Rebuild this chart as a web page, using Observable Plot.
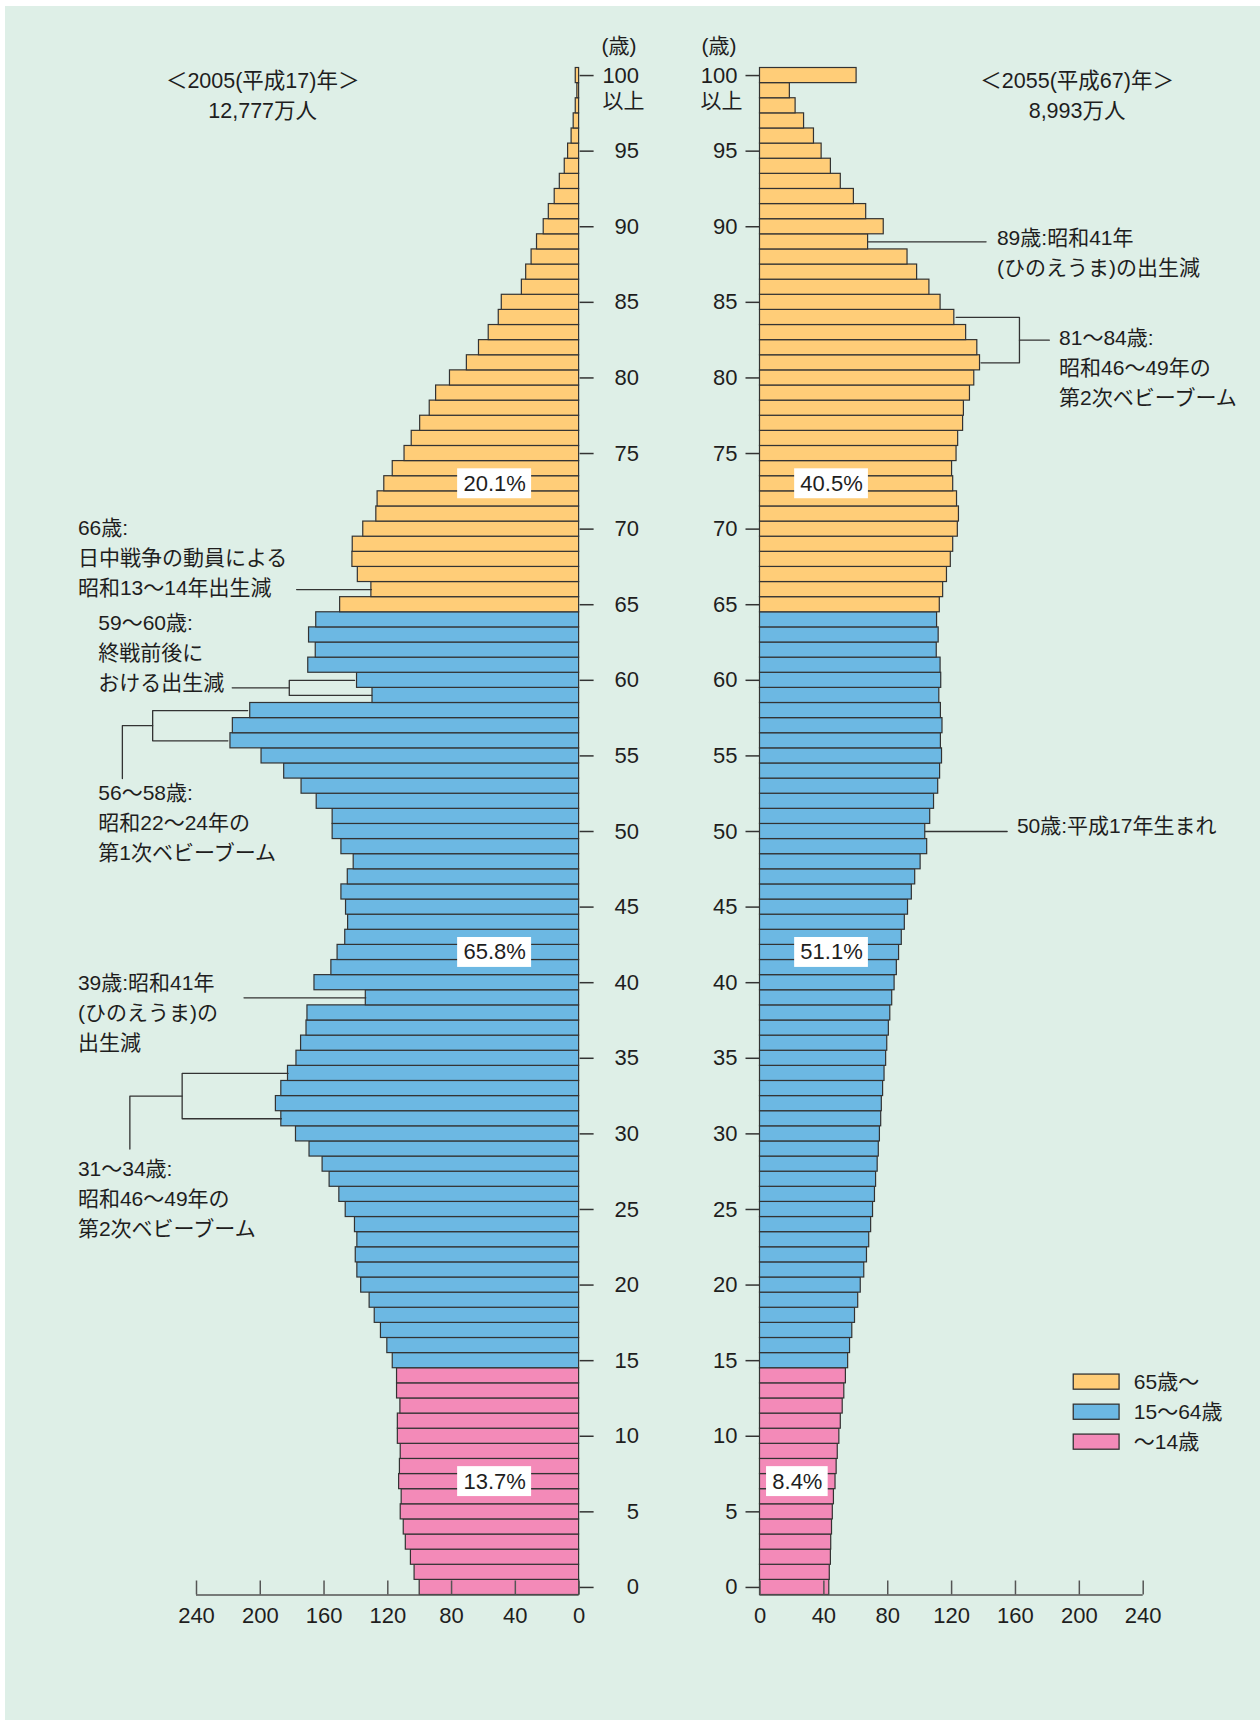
<!DOCTYPE html>
<html>
<head>
<meta charset="utf-8">
<script src="https://cdn.jsdelivr.net/npm/d3@7"></script>
<script src="https://cdn.jsdelivr.net/npm/@observablehq/plot@0.6"></script>
<style>
html, body { margin: 0; padding: 0; background: #ffffff; }
#page { position: relative; width: 1260px; height: 1720px; overflow: hidden; }
#bg { position: absolute; left: 5px; top: 6px; right: 0; bottom: 0; background: #deefe7; }
#left, #right { position: absolute; top: 0; }
#left { left: 0; }
#right { left: 680px; }
</style>
</head>
<body>
<div id="page"><div id="bg"></div><div id="left"></div><div id="right"></div></div>
<script>
// ---- data (万人, by single year of age 0 … 100以上) ----
const ages = d3.range(0, 101);
const pop2005 = [
  100.0, 103.2, 105.5, 108.7, 110.0, 111.9, 111.3, 112.9, 112.4, 111.9,
  113.7, 113.7, 112.1, 114.2, 114.2, 116.9, 120.3, 124.3, 128.2, 131.4,
  136.7, 139.1, 140.1, 139.1, 140.6, 146.4, 150.4, 156.5, 160.9, 169.1,
  177.6, 186.8, 190.2, 186.8, 182.6, 177.3, 174.4, 171.0, 170.4, 133.8,
  166.0, 155.4, 151.5, 146.7, 144.9, 146.2, 149.1, 145.1, 141.4, 149.1,
  154.6, 154.6, 164.6, 174.1, 185.0, 199.2, 218.7, 217.2, 206.3, 129.6,
  139.3, 169.9, 165.2, 169.4, 164.9, 149.9, 130.3, 138.8, 142.2, 142.0,
  135.4, 127.2, 126.4, 122.2, 116.9, 109.5, 105.0, 99.7, 93.7, 89.7,
  81.0, 70.4, 62.8, 56.7, 50.4, 48.5, 35.9, 33.2, 29.8, 26.4,
  22.2, 19.0, 15.3, 12.1, 9.0, 6.9, 4.7, 3.4, 2.1, 1.1,
  2.1
];
const pop2055 = [
  43.4, 43.7, 44.4, 44.6, 45.1, 45.6, 46.3, 47.3, 48.0, 48.7,
  49.7, 50.6, 51.8, 52.8, 53.8, 55.2, 56.4, 57.8, 59.5, 61.5,
  63.1, 65.3, 67.0, 68.4, 69.6, 70.8, 72.0, 72.7, 73.7, 74.4,
  75.1, 75.9, 76.3, 77.1, 78.0, 79.0, 79.7, 80.7, 81.6, 82.8,
  84.3, 85.7, 87.1, 88.8, 90.7, 92.7, 95.1, 97.2, 100.6, 104.7,
  103.5, 106.6, 109.0, 111.6, 112.8, 114.0, 113.3, 114.3, 113.3, 112.3,
  113.5, 113.1, 110.7, 111.9, 110.9, 112.6, 114.7, 117.1, 119.5, 121.0,
  123.9, 124.6, 123.4, 121.0, 120.3, 123.1, 124.1, 127.2, 127.7, 131.5,
  134.2, 137.8, 136.1, 129.1, 121.7, 113.1, 106.1, 98.4, 92.4, 67.7,
  77.5, 66.5, 58.8, 50.6, 44.4, 38.6, 33.8, 27.6, 22.3, 18.7,
  60.5
];
const groups = ["65歳～", "15～64歳", "～14歳"];
const groupColors = ["#ffcd78", "#6cb8e3", "#f38ab8"];
const xTicks = [0, 40, 80, 120, 160, 200, 240];
const ageTicks = d3.range(0, 101, 5);
const share2005 = ["20.1%", "65.8%", "13.7%"];
const share2055 = ["40.5%", "51.1%", "8.4%"];
const shareAges = [73, 42, 7];
const title2005 = ["＜2005(平成17)年＞", "12,777万人"];
const title2055 = ["＜2055(平成67)年＞", "8,993万人"];

// ---- helpers ----
const groupOf = a => a >= 65 ? groups[0] : a >= 15 ? groups[1] : groups[2];
const rows2005 = ages.map((a, i) => ({age: a, value: pop2005[i], group: groupOf(a)}));
const rows2055 = ages.map((a, i) => ({age: a, value: pop2055[i], group: groupOf(a)}));
const ink = "#1e1e1e";
const font = '"Liberation Sans", Arial, "Noto Sans CJK JP", sans-serif';
const lh = 30 / 21;

function pathPts(list) {
  const out = [];
  list.forEach((pts, id) => pts.forEach(([x, y]) => out.push({id, x, y})));
  return out;
}

function commonMarks(rows) {
  return [
    Plot.rectX(rows, {x1: 0, x2: "value", y1: d => d.age - 0.5, y2: d => d.age + 0.5,
      fill: "group", stroke: "#333", strokeWidth: 1.2}),
    Plot.ruleY([-0.5], {stroke: "#555", strokeWidth: 1.5}),
    Plot.ruleX(xTicks, {x: d => d, y1: -0.5, y2: -0.5, insetTop: -14, stroke: "#555", strokeWidth: 1.5}),
    Plot.axisX({anchor: "bottom", ticks: xTicks, tickSize: 0, tickPadding: 12, label: null,
      fontSize: 22, fill: ink})
  ];
}

// ---- left: 2005 ----
const notes2005 = [
  {x: 314.4, y: 68.06, text: "66歳:\n日中戦争の動員による\n昭和13～14年出生減"},
  {x: 301.6, y: 61.75, text: "59～60歳:\n終戦前後に\nおける出生減"},
  {x: 301.6, y: 50.51, text: "56～58歳:\n昭和22～24年の\n第1次ベビーブーム"},
  {x: 314.4, y: 37.94, text: "39歳:昭和41年\n(ひのえうま)の\n出生減"},
  {x: 314.4, y: 25.64, text: "31～34歳:\n昭和46～49年の\n第2次ベビーブーム"}
];
const leaders2005 = pathPts([
  [[177.2, 66], [pop2005[66], 66]],
  [[217.6, 59.5], [181.8, 59.5]],
  [[pop2005[60] + 1.5, 60], [181.8, 60], [181.8, 59], [pop2005[59] + 0.4, 59]],
  [[286.5, 53.5], [286.5, 57], [267.5, 57]],
  [[pop2005[58] + 1.6, 58], [267.5, 58], [267.5, 56], [pop2005[56] + 1.6, 56]],
  [[210.2, 39], [pop2005[39], 39]],
  [[281.8, 29], [281.8, 32.5], [249, 32.5]],
  [[pop2005[34], 34], [249, 34], [249, 31], [pop2005[31], 31]]
]);
const shares2005 = shareAges.map((a, i) => ({a, label: share2005[i]}));

const leftPlot = Plot.plot({
  width: 680, height: 1720,
  marginLeft: 196, marginRight: 101.4, marginTop: 67.5, marginBottom: 125.5,
  style: {background: "transparent", fontFamily: font, fontSize: "22px", color: ink, overflow: "visible"},
  x: {domain: [0, 240], reverse: true},
  y: {domain: [-0.5, 100.5]},
  color: {domain: groups, range: groupColors},
  marks: [
    ...commonMarks(rows2005),
    Plot.axisY({anchor: "right", ticks: ageTicks, tickSize: 14, tickPadding: 46, textAnchor: "end",
      label: null, fontSize: 22, fill: ink, stroke: "#333", strokeWidth: 1.5}),
    Plot.text(["以上"], {x: 0, y: 100, dx: 23.4, dy: 26, textAnchor: "start", fontSize: 21, fill: ink}),
    Plot.text(["(歳)"], {x: 0, y: 100, dx: 22.4, dy: -29, textAnchor: "start", fontSize: 21, fill: ink}),
    Plot.rect(shares2005, {x1: 29.8, x2: 76.2, y1: d => d.a - 0.99, y2: d => d.a + 0.99, fill: "white"}),
    Plot.text(shares2005, {x: 53, y: "a", text: "label", fontSize: 22, fill: ink}),
    Plot.line(leaders2005, {x: "x", y: "y", z: "id", stroke: "#333", strokeWidth: 1.3, curve: "linear"}),
    Plot.text(notes2005, {x: "x", y: "y", text: "text", textAnchor: "start", lineAnchor: "middle",
      lineHeight: lh, fontSize: 21, dy: -3.5, fill: ink}),
    Plot.text([title2005.join("\n")], {x: 198.5, y: 98.67, text: d => d, lineHeight: lh,
      fontSize: 21.5, dy: -2.5, fill: ink})
  ]
});
document.getElementById("left").appendChild(leftPlot);

// ---- right: 2055 ----
const notes2055 = [
  {x: 148.4, y: 88.2, text: "89歳:昭和41年\n(ひのえうま)の出生減"},
  {x: 187.3, y: 80.6, text: "81～84歳:\n昭和46～49年の\n第2次ベビーブーム"},
  {x: 160.9, y: 50.29, text: "50歳:平成17年生まれ"}
];
const leaders2055 = pathPts([
  [[pop2055[89], 89], [141.6, 89]],
  [[181.2, 82.5], [162.5, 82.5]],
  [[pop2055[84] + 1.2, 84], [162.5, 84], [162.5, 81], [pop2055[81] + 0.6, 81]],
  [[pop2055[50], 50], [154.8, 50]]
]);
const shares2055 = shareAges.map((a, i) => ({a, label: share2055[i]}));
const boxes2055 = [
  {c: 44.8, h: 23.1}, {c: 44.8, h: 23.1}, {c: 23.4, h: 19.3}
];
const legendRows = groups.map((g, i) => ({g, c: [13.58, 11.59, 9.61][i]}));

const rightPlot = Plot.plot({
  width: 580, height: 1720,
  marginLeft: 79.5, marginRight: 117.3, marginTop: 67.5, marginBottom: 125.5,
  style: {background: "transparent", fontFamily: font, fontSize: "22px", color: ink, overflow: "visible"},
  x: {domain: [0, 240]},
  y: {domain: [-0.5, 100.5]},
  color: {domain: groups, range: groupColors},
  marks: [
    ...commonMarks(rows2055),
    Plot.axisY({anchor: "left", ticks: ageTicks, tickSize: 14, tickPadding: 8.5,
      label: null, fontSize: 22, fill: ink, stroke: "#333", strokeWidth: 1.5}),
    Plot.text(["以上"], {x: 0, y: 100, dx: -59.5, dy: 26, textAnchor: "start", fontSize: 21, fill: ink}),
    Plot.text(["(歳)"], {x: 0, y: 100, dx: -58.5, dy: -29, textAnchor: "start", fontSize: 21, fill: ink}),
    Plot.rect(shares2055, {x1: (d, i) => boxes2055[i].c - boxes2055[i].h, x2: (d, i) => boxes2055[i].c + boxes2055[i].h,
      y1: d => d.a - 0.99, y2: d => d.a + 0.99, fill: "white"}),
    Plot.text(shares2055, {x: (d, i) => boxes2055[i].c, y: "a", text: "label", fontSize: 22, fill: ink}),
    Plot.line(leaders2055, {x: "x", y: "y", z: "id", stroke: "#333", strokeWidth: 1.3, curve: "linear"}),
    Plot.text(notes2055, {x: "x", y: "y", text: "text", textAnchor: "start", lineAnchor: "middle",
      lineHeight: lh, fontSize: 21, dy: -3.5, fill: ink}),
    Plot.text([title2055.join("\n")], {x: 198.6, y: 98.67, text: d => d, lineHeight: lh,
      fontSize: 21.5, dy: -2.5, fill: ink}),
    Plot.rect(legendRows, {x1: 196.5, x2: 225.2, y1: d => d.c - 0.5, y2: d => d.c + 0.5,
      fill: "g", stroke: "#333", strokeWidth: 1.3}),
    Plot.text(legendRows, {x: 234.1, y: "c", text: "g", textAnchor: "start", fontSize: 21, fill: ink})
  ]
});
document.getElementById("right").appendChild(rightPlot);
</script>
</body>
</html>
